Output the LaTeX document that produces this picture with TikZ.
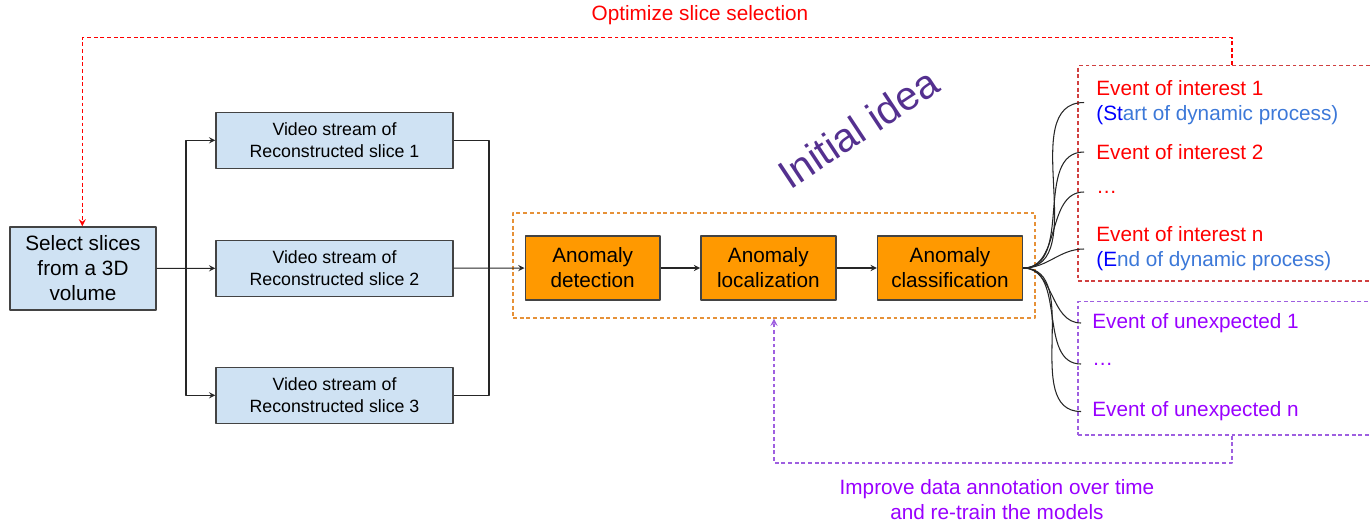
\documentclass[tikz,border=0pt]{standalone}
\usepackage{fontspec}
\setmainfont{Liberation Sans}
\usetikzlibrary{fit}

\definecolor{boxblue}{HTML}{CFE2F3}
\definecolor{boxedge}{HTML}{434343}
\definecolor{anorange}{HTML}{FF9900}
\definecolor{ideaorange}{HTML}{E69138}
\definecolor{evred}{HTML}{FF0000}
\definecolor{evredbox}{HTML}{D04040}
\definecolor{evblue}{HTML}{0000FF}
\definecolor{evbluelight}{HTML}{3C78D8}
\definecolor{evpurple}{HTML}{9900FF}
\definecolor{unxpurple}{HTML}{9E5FE0}
\definecolor{ideaviolet}{HTML}{54308F}

\tikzset{
  bigfont/.style={font=\fontsize{11.8}{14.2}\selectfont},
  smallfont/.style={font=\fontsize{10.1}{12.3}\selectfont},
  selbox/.style={draw=boxedge,fill=boxblue,line width=0.8pt,bigfont,align=center,
    minimum width=2.92cm,minimum height=1.66cm,inner sep=0pt},
  vidbox/.style={draw=boxedge,fill=boxblue,line width=0.8pt,smallfont,align=center,
    minimum width=4.74cm,minimum height=1.12cm,inner sep=0pt},
  anobox/.style={draw=boxedge,fill=anorange,line width=0.8pt,bigfont,align=center,
    minimum height=1.28cm,inner sep=0pt},
  link/.style={draw=black!85,line width=0.6pt},
  evtext/.style={bigfont,anchor=west,inner xsep=0.24cm,align=left},
  dashline/.style={dash pattern=on 2.2pt off 1.6pt,line width=0.8pt},
}

\begin{document}
\begin{tikzpicture}[x=0.02cm,y=-0.02cm,>=stealth,line join=round]
  \useasboundingbox (0,0) rectangle (1371,522);

  % input and the three slice streams
  \node[selbox] (sel) at (83,268.5) {Select slices\\from a 3D\\volume};
  \node[vidbox] (v1) at (334.5,140.3) {Video stream of\\Reconstructed slice 1};
  \node[vidbox] (v2) at (334.5,268.2) {Video stream of\\Reconstructed slice 2};
  \node[vidbox] (v3) at (334.5,395.3) {Video stream of\\Reconstructed slice 3};

  % anomaly pipeline
  \node[draw=ideaorange,dashline,inner sep=0pt,fit={(513,213) (1035,318)}] (idea) {};
  \node[anobox,minimum width=2.7cm] (det) at (592.7,268) {Anomaly\\detection};
  \node[anobox,minimum width=2.7cm] (loc) at (768.3,268) {Anomaly\\localization};
  \node[anobox,minimum width=2.9cm] (cls) at (950,268) {Anomaly\\classification};
  \node[rotate=33.5,text=ideaviolet,font=\fontsize{23}{27}\selectfont] (initial) at (858,128) {Initial idea};

  \coordinate (split) at (186,268.3);
  \coordinate (merge) at (489,268.3);
  \draw[link] (sel) -- (split);
  \draw[link,->] (split) |- (v1);
  \draw[link,->] (split) -- (v2);
  \draw[link,->] (split) |- (v3);
  \draw[link] (v1) -| (merge);
  \draw[link] (v3) -| (merge);
  \draw[link,->] (v2) -- (det);
  \draw[link,->] (det) -- (loc);
  \draw[link,->] (loc) -- (cls);

  % events
  \node[draw=evredbox,dashline,inner sep=0pt,fit={(1078,65.7) (1400,281)}] (intbox) {};
  \node[draw=unxpurple,dashline,inner sep=0pt,fit={(1078,301.7) (1400,435)}] (unxbox) {};
  \node[evtext,text=evred] (int1) at (1084,102.5) {Event of interest 1\\\textcolor{evblue}{(St}\textcolor{evbluelight}{art of dynamic process)}};
  \node[evtext,text=evred] (int2) at (1084,152) {Event of interest 2};
  \node[evtext,text=evred] (intd) at (1084,192) {…};
  \node[evtext,text=evred] (intn) at (1084,249) {Event of interest n\\\textcolor{evblue}{(E}\textcolor{evbluelight}{nd of dynamic process)}};
  \node[evtext,text=evpurple,inner xsep=0.22cm] (unx1) at (1081,323) {Event of unexpected 1};
  \node[evtext,text=evpurple,inner xsep=0.22cm] (unxd) at (1081,364) {…};
  \node[evtext,text=evpurple,inner xsep=0.22cm] (unxn) at (1081,411.5) {Event of unexpected n};
  \foreach \e in {int1,int2,intd,intn,unx1,unxd,unxn}{
    \draw[link] (cls.east) to[out=0,in=180] (\e.west);
  }

  % feedback loops
  \coordinate (optR) at (1232,37.7);
  \coordinate (optL) at (82.3,37.7);
  \draw[dashline,draw=evred,->] (intbox.north -| optR) -- (optR) -- (optL) -- (sel.north -| optL);
  \node[bigfont,text=evred] (optlabel) at (700,15) {Optimize slice selection};

  \coordinate (annR) at (1232,463);
  \coordinate (annL) at (774,463);
  \draw[dashline,draw=unxpurple,->] (unxbox.south -| annR) -- (annR) -- (annL) -- (idea.south -| annL);
  \node[bigfont,text=evpurple,align=center] (annlabel) at (997,500) {Improve data annotation over time\\and re-train the models};
\end{tikzpicture}
\end{document}
